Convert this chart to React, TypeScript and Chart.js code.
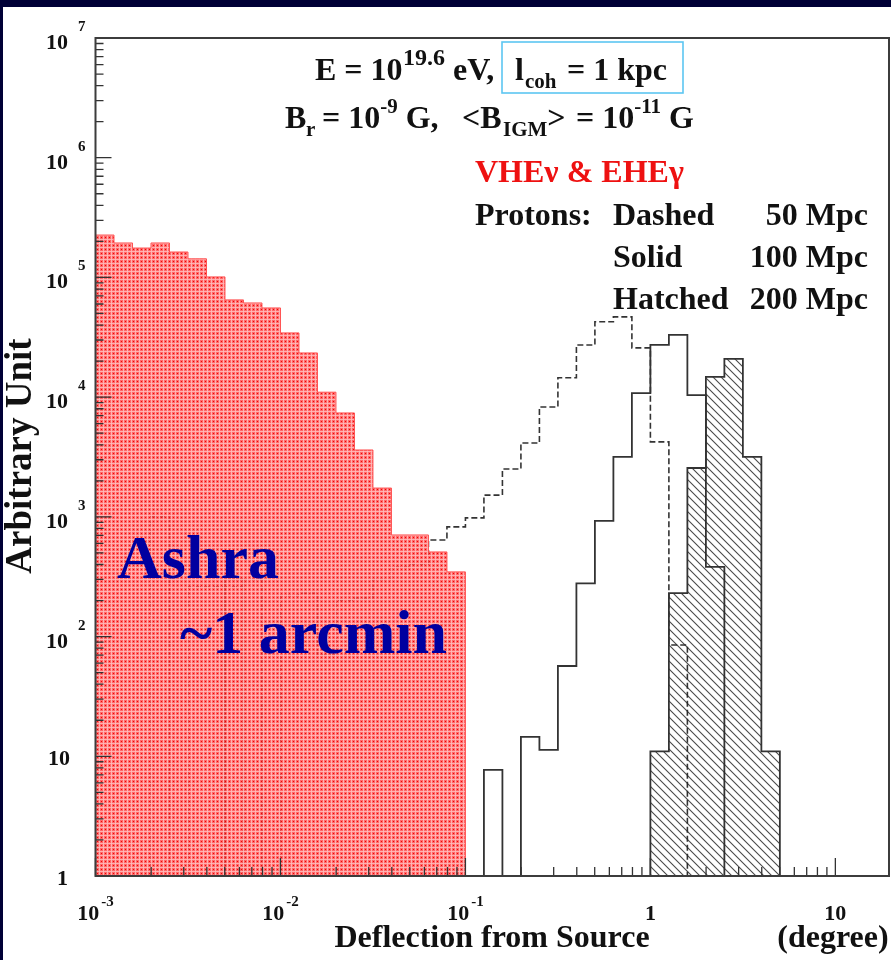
import React, { useEffect, useRef } from 'react';
import { Chart, registerables } from 'chart.js';

Chart.register(...registerables);

// ---- data (histogram bins are 0.1 wide in log10(deflection/degree)) ----
const BIN_WIDTH_LOG = 0.1;

// VHE neutrinos & EHE gamma-rays (red filled)
const vheStartLog = -3.0;
const vheValues = [226000, 194000, 176000, 194000, 163000, 143000, 101000, 64900, 61200, 55600,
  34400, 23400, 11000, 7380, 3620, 1740, 706, 706, 509, 347];

// Protons 50 Mpc (dashed)
const dashedStartLog = -3.0;
const dashedValues = [0, 0, 0, 1000, 0, 260, 260, 260, 300, 0,
  220, 230, 70, 200, 210, 300, 380, 400, 641, 824,
  980, 1520, 2510, 4140, 8280, 14500, 27300, 42600, 46800, 25800,
  4230, 85];

// Protons 100 Mpc (solid)
const solidStartLog = -2.3;
const solidValues = [300, 0, 0, 0, 0, 0, 0, 0, 0, 0,
  0, 0, 0, 0, 7.7, 0, 14.5, 11.3, 56.8, 278,
  925, 3170, 10800, 27300, 33100, 10400, 382];

// Protons 200 Mpc (hatched)
const hatchedStartLog = 0.0;
const hatchedValues = [11, 231, 2560, 14750, 20850, 3170, 11];

// axis ranges and tick labels
const xMin = 0.001;
const xMax = 19.5;
const yMin = 1;
const yMax = 1e7;
const xTickExponents = [-3, -2, -1, 0, 1];
const yTickExponents = [0, 1, 2, 3, 4, 5, 6, 7];

const SERIF = "'Liberation Serif', 'Times New Roman', 'DejaVu Serif', serif";
const bold = (s: number) => `bold ${s}px ${SERIF}`;

type Part = { t: string; size: number; dy?: number; color?: string; x?: number };

function partsWidth(ctx: CanvasRenderingContext2D, parts: Part[]) {
  let w = 0;
  for (const p of parts) {
    ctx.font = bold(p.size);
    w += ctx.measureText(p.t).width;
  }
  return w;
}

function drawRich(ctx: CanvasRenderingContext2D, x: number, y: number, parts: Part[], align: 'left' | 'center' | 'right' = 'left', color = '#111') {
  const w = partsWidth(ctx, parts);
  let cx = align === 'left' ? x : align === 'center' ? x - w / 2 : x - w;
  ctx.textAlign = 'left';
  ctx.textBaseline = 'alphabetic';
  for (const p of parts) {
    if (p.x !== undefined) cx = p.x;
    ctx.font = bold(p.size);
    ctx.fillStyle = p.color || color;
    ctx.fillText(p.t, cx, y + (p.dy || 0));
    cx += ctx.measureText(p.t).width;
  }
  return cx;
}

function histPoints(startLog: number, values: number[], floor: number) {
  const edge = (i: number) => Math.pow(10, startLog + i * BIN_WIDTH_LOG);
  const pts: { x: number; y: number }[] = [{ x: edge(0), y: floor }];
  values.forEach((v, i) => pts.push({ x: edge(i), y: Math.max(v, floor) }));
  pts.push({ x: edge(values.length), y: floor });
  return pts;
}

function makeRedPattern(ctx: CanvasRenderingContext2D) {
  const c = document.createElement('canvas');
  c.width = 4;
  c.height = 4;
  const g = c.getContext('2d')!;
  g.fillStyle = 'rgba(255,78,78,0.85)';
  g.fillRect(0, 0, 4, 4);
  g.fillStyle = 'rgba(255,185,185,0.9)';
  g.fillRect(0, 3, 4, 1);
  g.fillRect(3, 0, 1, 4);
  g.fillStyle = 'rgba(235,0,0,0.95)';
  g.fillRect(1, 1, 1, 1);
  return ctx.createPattern(c, 'repeat')!;
}

function makeHatchPattern(ctx: CanvasRenderingContext2D) {
  const s = 8;
  const c = document.createElement('canvas');
  c.width = s;
  c.height = s;
  const g = c.getContext('2d')!;
  g.strokeStyle = 'rgba(40,40,40,0.85)';
  g.lineWidth = 1.1;
  for (const off of [-s, 0, s]) {
    g.beginPath();
    g.moveTo(off - 1, -1);
    g.lineTo(off + s + 1, s + 1);
    g.stroke();
  }
  return ctx.createPattern(c, 'repeat')!;
}

const decorPlugin = {
  id: 'decor',
  beforeDraw(chart: any) {
    const ctx: CanvasRenderingContext2D = chart.ctx;
    ctx.save();
    ctx.fillStyle = '#000036';
    ctx.fillRect(0, 0, chart.width, chart.height);
    ctx.fillStyle = '#ffffff';
    ctx.fillRect(3, 7, chart.width - 3, chart.height - 7);
    ctx.restore();
  },
  afterDatasetsDraw(chart: any) {
    const ctx: CanvasRenderingContext2D = chart.ctx;
    const { left, right, top, bottom } = chart.chartArea;
    const xs = chart.scales.x;
    const ys = chart.scales.y;
    ctx.save();
    ctx.strokeStyle = '#333';
    ctx.lineWidth = 1.3;
    ctx.beginPath();
    for (let d = -3; d <= 1; d++) {
      for (let k = 1; k <= 9; k++) {
        const v = k * Math.pow(10, d);
        if (v < xMin || v > xMax) continue;
        const px = xs.getPixelForValue(v);
        ctx.moveTo(px, bottom);
        ctx.lineTo(px, bottom - (k === 1 ? 18 : 9));
      }
    }
    for (let d = 0; d <= 7; d++) {
      for (let k = 1; k <= 9; k++) {
        const v = k * Math.pow(10, d);
        if (v < yMin || v > yMax) continue;
        const py = ys.getPixelForValue(v);
        ctx.moveTo(left, py);
        ctx.lineTo(left + (k === 1 ? 16 : 8), py);
      }
    }
    ctx.stroke();
    ctx.strokeStyle = '#3c3c3c';
    ctx.lineWidth = 2;
    ctx.strokeRect(left, top, right - left, bottom - top);
    ctx.restore();
  },
  afterDraw(chart: any) {
    const ctx: CanvasRenderingContext2D = chart.ctx;
    const xs = chart.scales.x;
    const ys = chart.scales.y;
    const { bottom } = chart.chartArea;
    ctx.save();

    // y tick labels
    for (const n of yTickExponents) {
      const py = ys.getPixelForValue(Math.pow(10, n));
      ctx.font = bold(22);
      ctx.fillStyle = '#111';
      ctx.textAlign = 'right';
      ctx.textBaseline = 'alphabetic';
      if (n === 0) {
        ctx.fillText('1', 68, py + 9);
      } else if (n === 1) {
        ctx.fillText('10', 70, py + 9);
      } else {
        ctx.fillText('10', 68, py + 11);
        ctx.font = bold(15);
        ctx.textAlign = 'left';
        ctx.fillText(String(n), 78, py - 7);
      }
    }

    // x tick labels
    for (const n of xTickExponents) {
      const px = xs.getPixelForValue(Math.pow(10, n));
      const base = bottom + 44;
      if (n === 0) {
        drawRich(ctx, px, base, [{ t: '1', size: 22 }], 'center');
      } else if (n === 1) {
        drawRich(ctx, px, base, [{ t: '10', size: 22 }], 'center');
      } else {
        drawRich(ctx, px, base, [{ t: '10', size: 22 }, { t: ' ', size: 8 }, { t: String(n), size: 15, dy: -14 }], 'center');
      }
    }

    // axis titles
    ctx.font = bold(32);
    ctx.fillStyle = '#111';
    ctx.textAlign = 'center';
    ctx.fillText('Deflection from Source', 492, 947);
    ctx.fillText('(degree)', 833, 947);

    ctx.save();
    ctx.translate(31, 456);
    ctx.rotate(-Math.PI / 2);
    ctx.font = bold(37);
    ctx.textAlign = 'center';
    ctx.fillText('Arbitrary Unit', 0, 0);
    ctx.restore();

    // header text
    drawRich(ctx, 315, 80, [
      { t: 'E = 10', size: 32 },
      { t: '19.6', size: 24, dy: -15, x: 403 },
      { t: 'eV,', size: 32, x: 453 },
      { t: 'l', size: 32, x: 515 },
      { t: 'coh', size: 21, dy: 8, x: 525 },
      { t: '= 1 kpc', size: 32, x: 567 },
    ]);
    ctx.strokeStyle = '#5cc6f2';
    ctx.lineWidth = 1.6;
    ctx.strokeRect(502, 42, 181, 51);

    drawRich(ctx, 285, 128, [
      { t: 'B', size: 32 },
      { t: 'r', size: 21, dy: 8, x: 306 },
      { t: '= 10', size: 32, x: 322 },
      { t: '-9', size: 21, dy: -15 },
      { t: ' G,', size: 32 },
      { t: '<B', size: 32, x: 462 },
      { t: 'IGM', size: 21, dy: 8, x: 503 },
      { t: '>', size: 32 },
      { t: '= 10', size: 32, x: 576 },
      { t: '-11', size: 21, dy: -15 },
      { t: ' G', size: 32 },
    ]);

    drawRich(ctx, 475, 182, [{ t: 'VHE\u03bd & EHE\u03b3', size: 32 }], 'left', '#ee1111');

    const legendRows = [
      ['Protons:', 'Dashed', '50 Mpc'],
      ['', 'Solid', '100 Mpc'],
      ['', 'Hatched', '200 Mpc'],
    ];
    legendRows.forEach((row, i) => {
      const y = 225 + i * 42;
      ctx.font = bold(32);
      ctx.fillStyle = '#111';
      ctx.textAlign = 'left';
      if (row[0]) ctx.fillText(row[0], 475, y);
      ctx.fillText(row[1], 613, y);
      ctx.textAlign = 'right';
      ctx.fillText(row[2], 868, y);
    });

    // Ashra annotation
    ctx.font = bold(62);
    ctx.fillStyle = '#0000a0';
    ctx.textAlign = 'left';
    ctx.fillText('Ashra', 117, 578);
    ctx.fillText('~1 arcmin', 180, 653);

    ctx.restore();
  },
};

export default function App() {
  const ref = useRef<HTMLCanvasElement>(null);

  useEffect(() => {
    document.body.style.margin = '0';
    const canvas = ref.current!;
    const ctx = canvas.getContext('2d')!;
    const redPattern = makeRedPattern(ctx);
    const hatchPattern = makeHatchPattern(ctx);

    const common = { stepped: 'before' as const, pointRadius: 0, pointHoverRadius: 0, tension: 0 };

    const chart = new Chart(ctx, {
      type: 'line',
      data: {
        datasets: [
          {
            ...common,
            label: 'VHE\u03bd & EHE\u03b3',
            data: histPoints(vheStartLog, vheValues, yMin),
            fill: 'start',
            backgroundColor: redPattern,
            borderColor: 'rgba(255,80,80,1)',
            borderWidth: 1,
            order: 0,
          },
          {
            ...common,
            label: 'Hatched 200 Mpc',
            data: histPoints(hatchedStartLog, hatchedValues, yMin),
            fill: 'start',
            backgroundColor: hatchPattern,
            borderColor: '#333',
            borderWidth: 1.8,
            order: 1,
          },
          {
            ...common,
            label: 'Solid 100 Mpc',
            data: histPoints(solidStartLog, solidValues, yMin),
            fill: false,
            borderColor: '#333',
            borderWidth: 1.8,
            order: 2,
          },
          {
            ...common,
            label: 'Dashed 50 Mpc',
            data: histPoints(dashedStartLog, dashedValues, yMin),
            fill: false,
            borderColor: '#333',
            borderWidth: 1.6,
            borderDash: [6, 3],
            order: 3,
          },
        ],
      } as any,
      options: {
        animation: false,
        responsive: false,
        devicePixelRatio: 1,
        events: [],
        layout: { padding: { left: 95.5, right: 2, top: 38, bottom: 84 } },
        scales: {
          x: { type: 'logarithmic', min: xMin, max: xMax, display: false },
          y: { type: 'logarithmic', min: yMin, max: yMax, display: false },
        },
        plugins: { legend: { display: false }, tooltip: { enabled: false } },
      } as any,
      plugins: [decorPlugin],
    });
    return () => chart.destroy();
  }, []);

  return (
    <canvas
      ref={ref}
      width={891}
      height={960}
      style={{ position: 'absolute', left: 0, top: 0, width: 891, height: 960, display: 'block' }}
    />
  );
}
